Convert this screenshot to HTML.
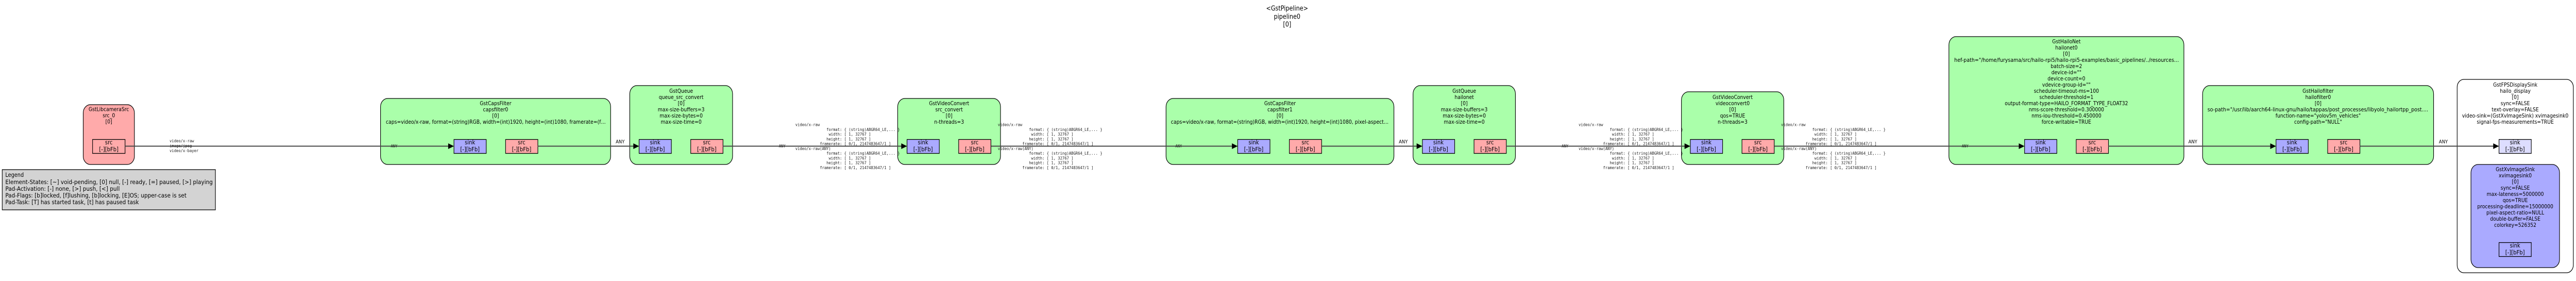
<!DOCTYPE html>
<html><head><meta charset="utf-8"><style>
html,body{margin:0;padding:0;background:#fff;width:100%;height:100%;overflow:hidden;}
svg{display:block;width:100vw;height:100vh;}
.n{font-family:"DejaVu Sans","Liberation Sans",sans-serif;font-size:10.7px;fill:#000;text-anchor:middle;dominant-baseline:central;}
.p{font-family:"DejaVu Sans","Liberation Sans",sans-serif;font-size:11.6px;fill:#000;text-anchor:middle;dominant-baseline:central;}
.t{font-family:"DejaVu Sans","Liberation Sans",sans-serif;font-size:13px;fill:#000;text-anchor:middle;dominant-baseline:central;}
.l{font-family:"DejaVu Sans","Liberation Sans",sans-serif;font-size:11.3px;fill:#000;dominant-baseline:central;}
.a{font-family:"DejaVu Sans","Liberation Sans",sans-serif;font-size:9.8px;fill:#000;text-anchor:middle;dominant-baseline:central;}
.m{font-family:"DejaVu Sans Mono","Liberation Mono",monospace;font-size:8.3px;fill:#222;dominant-baseline:central;}
.box{stroke:#000;stroke-width:1.3;}
.pad{stroke:#000;stroke-width:1.3;}
.e{stroke:#474747;stroke-width:2;fill:none;}
</style></head><body>
<svg viewBox="0 0 5788 545" preserveAspectRatio="none" xmlns="http://www.w3.org/2000/svg">

<!-- Title -->
<text class="t" x="2892" y="16">&lt;GstPipeline&gt;</text>
<text class="t" x="2892" y="32">pipeline0</text>
<text class="t" x="2892" y="47">[0]</text>

<!-- Legend -->
<rect x="5" y="329" width="479" height="78" fill="#d3d3d3" stroke="#000" stroke-width="1.3"/>
<text class="l" x="12" y="340">Legend</text>
<text class="l" x="12" y="354" textLength="466" lengthAdjust="spacingAndGlyphs">Element-States: [~] void-pending, [0] null, [-] ready, [=] paused, [&gt;] playing</text>
<text class="l" x="12" y="367" textLength="257" lengthAdjust="spacingAndGlyphs">Pad-Activation: [-] none, [&gt;] push, [&lt;] pull</text>
<text class="l" x="12" y="380" textLength="407" lengthAdjust="spacingAndGlyphs">Pad-Flags: [b]locked, [f]lushing, [b]locking, [E]OS; upper-case is set</text>
<text class="l" x="12" y="393" textLength="300" lengthAdjust="spacingAndGlyphs">Pad-Task: [T] has started task, [t] has paused task</text>

<!-- 1 libcamera src -->
<rect class="box" x="187" y="203" width="115" height="116" rx="16" ry="16" fill="#ffaaaa"/>
<text class="n" x="244.5" y="213">GstLibcameraSrc</text>
<text class="n" x="244.5" y="225">src_0</text>
<text class="n" x="244.5" y="237">[0]</text>
<rect class="pad" x="208" y="270.5" width="73" height="27" fill="#ffaaaa"/>
<text class="p" x="244.5" y="276.5">src</text>
<text class="p" x="244.5" y="290">[-][bFb]</text>

<!-- 2 capsfilter0 -->
<rect class="box" x="855" y="191" width="517" height="128" rx="16" ry="16" fill="#aaffaa"/>
<text class="n" x="1113.5" y="201.5">GstCapsFilter</text>
<text class="n" x="1113.5" y="213.5">capsfilter0</text>
<text class="n" x="1113.5" y="225.5">[0]</text>
<text class="n" x="1114" y="237.5" textLength="494" lengthAdjust="spacingAndGlyphs">caps=video/x-raw, format=(string)RGB, width=(int)1920, height=(int)1080, framerate=(f…</text>
<rect class="pad" x="1020" y="270.5" width="72.5" height="27" fill="#aaaaff"/>
<text class="p" x="1056" y="276.5">sink</text>
<text class="p" x="1056" y="290">[-][bFb]</text>
<rect class="pad" x="1136" y="270.5" width="72.5" height="27" fill="#ffaaaa"/>
<text class="p" x="1172" y="276.5">src</text>
<text class="p" x="1172" y="290">[-][bFb]</text>

<!-- 3 queue_src_convert -->
<rect class="box" x="1415" y="166" width="231" height="153" rx="16" ry="16" fill="#aaffaa"/>
<text class="n" x="1530.5" y="177.5">GstQueue</text>
<text class="n" x="1530.5" y="189.5">queue_src_convert</text>
<text class="n" x="1530.5" y="201.5">[0]</text>
<text class="n" x="1530.5" y="213.5">max-size-buffers=3</text>
<text class="n" x="1530.5" y="225.5">max-size-bytes=0</text>
<text class="n" x="1530.5" y="237.5">max-size-time=0</text>
<rect class="pad" x="1436" y="270.5" width="72.5" height="27" fill="#aaaaff"/>
<text class="p" x="1472" y="276.5">sink</text>
<text class="p" x="1472" y="290">[-][bFb]</text>
<rect class="pad" x="1552" y="270.5" width="72.5" height="27" fill="#ffaaaa"/>
<text class="p" x="1588" y="276.5">src</text>
<text class="p" x="1588" y="290">[-][bFb]</text>

<!-- 4 src_convert -->
<rect class="box" x="2017" y="191" width="231" height="128" rx="16" ry="16" fill="#aaffaa"/>
<text class="n" x="2132.5" y="201.5">GstVideoConvert</text>
<text class="n" x="2132.5" y="213.5">src_convert</text>
<text class="n" x="2132.5" y="225.5">[0]</text>
<text class="n" x="2132.5" y="237.5">n-threads=3</text>
<rect class="pad" x="2038" y="270.5" width="72.5" height="27" fill="#aaaaff"/>
<text class="p" x="2074" y="276.5">sink</text>
<text class="p" x="2074" y="290">[-][bFb]</text>
<rect class="pad" x="2154" y="270.5" width="72.5" height="27" fill="#ffaaaa"/>
<text class="p" x="2190" y="276.5">src</text>
<text class="p" x="2190" y="290">[-][bFb]</text>

<!-- 5 capsfilter1 -->
<rect class="box" x="2620" y="191" width="512" height="128" rx="16" ry="16" fill="#aaffaa"/>
<text class="n" x="2876" y="201.5">GstCapsFilter</text>
<text class="n" x="2876" y="213.5">capsfilter1</text>
<text class="n" x="2876" y="225.5">[0]</text>
<text class="n" x="2875.5" y="237.5" textLength="489" lengthAdjust="spacingAndGlyphs">caps=video/x-raw, format=(string)RGB, width=(int)1920, height=(int)1080, pixel-aspect…</text>
<rect class="pad" x="2781" y="270.5" width="72.5" height="27" fill="#aaaaff"/>
<text class="p" x="2817" y="276.5">sink</text>
<text class="p" x="2817" y="290">[-][bFb]</text>
<rect class="pad" x="2897" y="270.5" width="72.5" height="27" fill="#ffaaaa"/>
<text class="p" x="2933" y="276.5">src</text>
<text class="p" x="2933" y="290">[-][bFb]</text>

<!-- 6 queue hailonet -->
<rect class="box" x="3175" y="166" width="230" height="153" rx="16" ry="16" fill="#aaffaa"/>
<text class="n" x="3290" y="177.5">GstQueue</text>
<text class="n" x="3290" y="189.5">hailonet</text>
<text class="n" x="3290" y="201.5">[0]</text>
<text class="n" x="3290" y="213.5">max-size-buffers=3</text>
<text class="n" x="3290" y="225.5">max-size-bytes=0</text>
<text class="n" x="3290" y="237.5">max-size-time=0</text>
<rect class="pad" x="3196" y="270.5" width="72.5" height="27" fill="#aaaaff"/>
<text class="p" x="3232" y="276.5">sink</text>
<text class="p" x="3232" y="290">[-][bFb]</text>
<rect class="pad" x="3312" y="270.5" width="72.5" height="27" fill="#ffaaaa"/>
<text class="p" x="3348" y="276.5">src</text>
<text class="p" x="3348" y="290">[-][bFb]</text>

<!-- 7 videoconvert0 -->
<rect class="box" x="3778" y="178" width="230" height="141" rx="16" ry="16" fill="#aaffaa"/>
<text class="n" x="3893" y="189.5">GstVideoConvert</text>
<text class="n" x="3893" y="201.5">videoconvert0</text>
<text class="n" x="3893" y="213.5">[0]</text>
<text class="n" x="3893" y="225.5">qos=TRUE</text>
<text class="n" x="3893" y="237.5">n-threads=3</text>
<rect class="pad" x="3798" y="270.5" width="72.5" height="27" fill="#aaaaff"/>
<text class="p" x="3834" y="276.5">sink</text>
<text class="p" x="3834" y="290">[-][bFb]</text>
<rect class="pad" x="3914" y="270.5" width="72.5" height="27" fill="#ffaaaa"/>
<text class="p" x="3950" y="276.5">src</text>
<text class="p" x="3950" y="290">[-][bFb]</text>

<!-- 8 hailonet0 -->
<rect class="box" x="4379" y="71" width="528" height="248" rx="16" ry="16" fill="#aaffaa"/>
<text class="n" x="4643" y="81.5">GstHailoNet</text>
<text class="n" x="4643" y="93.5">hailonet0</text>
<text class="n" x="4643" y="105.5">[0]</text>
<text class="n" x="4643.5" y="117.5" textLength="505" lengthAdjust="spacingAndGlyphs">hef-path="/home/furysama/src/hailo-rpi5/hailo-rpi5-examples/basic_pipelines/../resources…</text>
<text class="n" x="4643" y="129.5">batch-size=2</text>
<text class="n" x="4643" y="141.5">device-id=""</text>
<text class="n" x="4643" y="153.5">device-count=0</text>
<text class="n" x="4643" y="165.5">vdevice-group-id=""</text>
<text class="n" x="4643" y="177.5">scheduler-timeout-ms=100</text>
<text class="n" x="4643" y="189.5">scheduler-threshold=1</text>
<text class="n" x="4643" y="201.5">output-format-type=HAILO_FORMAT_TYPE_FLOAT32</text>
<text class="n" x="4643" y="213.5">nms-score-threshold=0.300000</text>
<text class="n" x="4643" y="225.5">nms-iou-threshold=0.450000</text>
<text class="n" x="4643" y="237.5">force-writable=TRUE</text>
<rect class="pad" x="4549" y="270.5" width="72.5" height="27" fill="#aaaaff"/>
<text class="p" x="4585" y="276.5">sink</text>
<text class="p" x="4585" y="290">[-][bFb]</text>
<rect class="pad" x="4665" y="270.5" width="72.5" height="27" fill="#ffaaaa"/>
<text class="p" x="4701" y="276.5">src</text>
<text class="p" x="4701" y="290">[-][bFb]</text>

<!-- 9 hailofilter0 -->
<rect class="box" x="4949" y="166" width="519" height="153" rx="16" ry="16" fill="#aaffaa"/>
<text class="n" x="5208.5" y="177.5">GstHailofilter</text>
<text class="n" x="5208.5" y="189.5">hailofilter0</text>
<text class="n" x="5208.5" y="201.5">[0]</text>
<text class="n" x="5208" y="213.5" textLength="496" lengthAdjust="spacingAndGlyphs">so-path="/usr/lib/aarch64-linux-gnu/hailo/tappas/post_processes/libyolo_hailortpp_post.…</text>
<text class="n" x="5208.5" y="225.5">function-name="yolov5m_vehicles"</text>
<text class="n" x="5208.5" y="237.5">config-path="NULL"</text>
<rect class="pad" x="5114" y="270.5" width="72.5" height="27" fill="#aaaaff"/>
<text class="p" x="5150" y="276.5">sink</text>
<text class="p" x="5150" y="290">[-][bFb]</text>
<rect class="pad" x="5230" y="270.5" width="72.5" height="27" fill="#ffaaaa"/>
<text class="p" x="5266" y="276.5">src</text>
<text class="p" x="5266" y="290">[-][bFb]</text>

<!-- 10 hailo_display bin -->
<rect class="box" x="5521" y="154" width="261" height="375" rx="15" ry="15" fill="#ffffff"/>
<text class="n" x="5651.5" y="165.5">GstFPSDisplaySink</text>
<text class="n" x="5651.5" y="177.5">hailo_display</text>
<text class="n" x="5651.5" y="189.5">[0]</text>
<text class="n" x="5651.5" y="201.5">sync=FALSE</text>
<text class="n" x="5651.5" y="213.5">text-overlay=FALSE</text>
<text class="n" x="5651.5" y="225.5" textLength="239" lengthAdjust="spacingAndGlyphs">video-sink=(GstXvImageSink) xvimagesink0</text>
<text class="n" x="5651.5" y="237.5">signal-fps-measurements=TRUE</text>
<rect class="pad" x="5615" y="270.5" width="72.5" height="27" fill="#ddddff"/>
<text class="p" x="5651" y="276.5">sink</text>
<text class="p" x="5651" y="290">[-][bFb]</text>

<!-- 11 xvimagesink0 -->
<rect class="box" x="5552" y="319" width="199" height="200" rx="16" ry="16" fill="#aaaaff"/>
<text class="n" x="5651.5" y="329.5">GstXvImageSink</text>
<text class="n" x="5651.5" y="341.5">xvimagesink0</text>
<text class="n" x="5651.5" y="353.5">[0]</text>
<text class="n" x="5651.5" y="365.5">sync=FALSE</text>
<text class="n" x="5651.5" y="377.5">max-lateness=5000000</text>
<text class="n" x="5651.5" y="389.5">qos=TRUE</text>
<text class="n" x="5651.5" y="401.5">processing-deadline=15000000</text>
<text class="n" x="5651.5" y="413.5">pixel-aspect-ratio=NULL</text>
<text class="n" x="5651.5" y="425.5">double-buffer=FALSE</text>
<text class="n" x="5651.5" y="437.5">colorkey=526352</text>
<rect class="pad" x="5615" y="470.5" width="72.5" height="27" fill="#aaaaff"/>
<text class="p" x="5651" y="476.5">sink</text>
<text class="p" x="5651" y="490">[-][bFb]</text>

<!-- Edges -->
<g>
<line class="e" x1="281" y1="283.5" x2="1008" y2="283.5"/>
<polygon points="1007,278 1020,283.5 1007,289" fill="#000"/>
<line class="e" x1="1208" y1="283.5" x2="1424" y2="283.5"/>
<polygon points="1423,278 1436,283.5 1423,289" fill="#000"/>
<line class="e" x1="1624" y1="283.5" x2="2026" y2="283.5"/>
<polygon points="2025,278 2038,283.5 2025,289" fill="#000"/>
<line class="e" x1="2227" y1="283.5" x2="2769" y2="283.5"/>
<polygon points="2768,278 2781,283.5 2768,289" fill="#000"/>
<line class="e" x1="2970" y1="283.5" x2="3184" y2="283.5"/>
<polygon points="3183,278 3196,283.5 3183,289" fill="#000"/>
<line class="e" x1="3384" y1="283.5" x2="3786" y2="283.5"/>
<polygon points="3785,278 3798,283.5 3785,289" fill="#000"/>
<line class="e" x1="3987" y1="283.5" x2="4537" y2="283.5"/>
<polygon points="4536,278 4549,283.5 4536,289" fill="#000"/>
<line class="e" x1="4737" y1="283.5" x2="5102" y2="283.5"/>
<polygon points="5101,278 5114,283.5 5101,289" fill="#000"/>
<line class="e" x1="5302" y1="283.5" x2="5603" y2="283.5"/>
<polygon points="5602,278 5615,283.5 5602,289" fill="#000"/>
</g>

<!-- Edge labels: big ANY -->
<text class="a" x="1393.5" y="276">ANY</text>
<text class="a" x="3153" y="276">ANY</text>
<text class="a" x="4927" y="276">ANY</text>
<text class="a" x="5490" y="276">ANY</text>

<!-- small ANY -->
<text class="m" x="878" y="283.5">ANY</text>
<text class="m" x="1750" y="283.5">ANY</text>
<text class="m" x="2641" y="283.5">ANY</text>
<text class="m" x="3509" y="283.5">ANY</text>
<text class="m" x="4408" y="283.5">ANY</text>

<!-- libcamera caps -->
<text class="m" x="381" y="273.3">video/x-raw</text>
<text class="m" x="381" y="283">image/jpeg</text>
<text class="m" x="381" y="292.5">video/x-bayer</text>

<!-- caps blocks -->
<g>
<text class="m" x="1787" y="242">video/x-raw</text>
<text class="m" x="1857" y="251.3">format: { (string)ABGR64_LE,... }</text>
<text class="m" x="1862" y="260.5">width: [ 1, 32767 ]</text>
<text class="m" x="1857" y="269.8">height: [ 1, 32767 ]</text>
<text class="m" x="1842" y="279">framerate: [ 0/1, 2147483647/1 ]</text>
<text class="m" x="1787" y="288.3">video/x-raw(ANY)</text>
<text class="m" x="1857" y="297.5">format: { (string)ABGR64_LE,... }</text>
<text class="m" x="1862" y="306.8">width: [ 1, 32767 ]</text>
<text class="m" x="1857" y="316">height: [ 1, 32767 ]</text>
<text class="m" x="1842" y="325.3">framerate: [ 0/1, 2147483647/1 ]</text>
</g>
<g>
<text class="m" x="2242" y="242">video/x-raw</text>
<text class="m" x="2312" y="251.3">format: { (string)ABGR64_LE,... }</text>
<text class="m" x="2317" y="260.5">width: [ 1, 32767 ]</text>
<text class="m" x="2312" y="269.8">height: [ 1, 32767 ]</text>
<text class="m" x="2297" y="279">framerate: [ 0/1, 2147483647/1 ]</text>
<text class="m" x="2242" y="288.3">video/x-raw(ANY)</text>
<text class="m" x="2312" y="297.5">format: { (string)ABGR64_LE,... }</text>
<text class="m" x="2317" y="306.8">width: [ 1, 32767 ]</text>
<text class="m" x="2312" y="316">height: [ 1, 32767 ]</text>
<text class="m" x="2297" y="325.3">framerate: [ 0/1, 2147483647/1 ]</text>
</g>
<g>
<text class="m" x="3547" y="242">video/x-raw</text>
<text class="m" x="3617" y="251.3">format: { (string)ABGR64_LE,... }</text>
<text class="m" x="3622" y="260.5">width: [ 1, 32767 ]</text>
<text class="m" x="3617" y="269.8">height: [ 1, 32767 ]</text>
<text class="m" x="3602" y="279">framerate: [ 0/1, 2147483647/1 ]</text>
<text class="m" x="3547" y="288.3">video/x-raw(ANY)</text>
<text class="m" x="3617" y="297.5">format: { (string)ABGR64_LE,... }</text>
<text class="m" x="3622" y="306.8">width: [ 1, 32767 ]</text>
<text class="m" x="3617" y="316">height: [ 1, 32767 ]</text>
<text class="m" x="3602" y="325.3">framerate: [ 0/1, 2147483647/1 ]</text>
</g>
<g>
<text class="m" x="4002" y="242">video/x-raw</text>
<text class="m" x="4072" y="251.3">format: { (string)ABGR64_LE,... }</text>
<text class="m" x="4077" y="260.5">width: [ 1, 32767 ]</text>
<text class="m" x="4072" y="269.8">height: [ 1, 32767 ]</text>
<text class="m" x="4057" y="279">framerate: [ 0/1, 2147483647/1 ]</text>
<text class="m" x="4002" y="288.3">video/x-raw(ANY)</text>
<text class="m" x="4072" y="297.5">format: { (string)ABGR64_LE,... }</text>
<text class="m" x="4077" y="306.8">width: [ 1, 32767 ]</text>
<text class="m" x="4072" y="316">height: [ 1, 32767 ]</text>
<text class="m" x="4057" y="325.3">framerate: [ 0/1, 2147483647/1 ]</text>
</g>
</svg>
</body></html>
